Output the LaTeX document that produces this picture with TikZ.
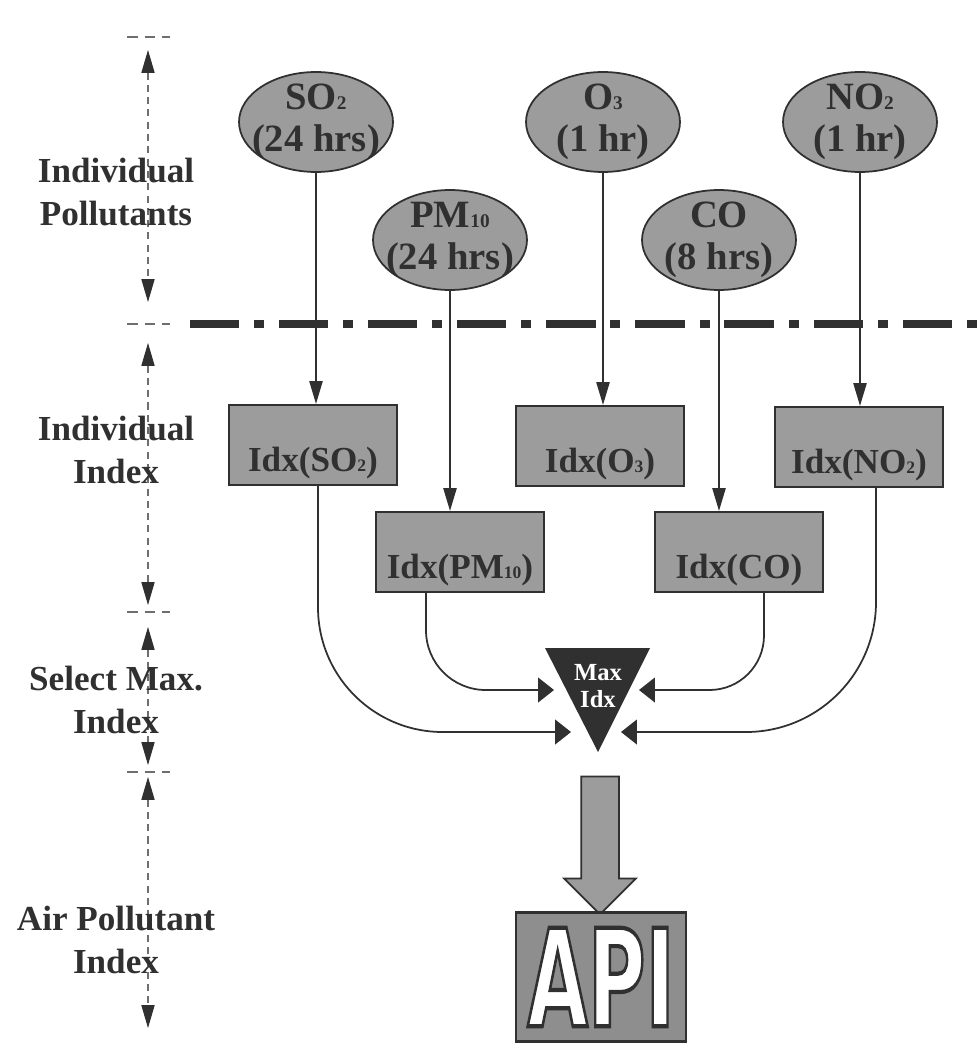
\documentclass[tikz,border=0pt]{standalone}
\usepackage{fontspec}
\setmainfont{Liberation Serif}
\newfontfamily\apifont{DejaVu Sans}
\usepackage{tikz}
\usepackage{color}
\usetikzlibrary{shapes.geometric,shapes.arrows,arrows.meta,calc}
\definecolor{ink}{RGB}{48,48,48}
\definecolor{shade}{RGB}{156,156,156}
\definecolor{apigray}{RGB}{142,142,142}
\definecolor{guide}{RGB}{110,110,110}
\newcommand{\lo}[1]{\scalebox{0.5}{#1}}
\newcommand{\outlined}[1]{\special{pdf:literal direct 0.19 0.19 0.19 RG 2.4 w 2 Tr}#1\special{pdf:literal direct 0 Tr}}

\begin{document}
\begin{tikzpicture}[x=0.02cm,y=-0.02cm]
            \tikzstyle{pollutant}=[draw=ink,line width=1pt,fill=shade,ellipse,minimum width=3.08cm,minimum height=2cm,inner sep=-8pt,align=center,text=ink,font=\fontsize{22}{24}\selectfont\bfseries]
            \tikzstyle{index}=[draw=ink,line width=1.2pt,fill=shade,rectangle,minimum width=3.36cm,minimum height=1.6cm,inner sep=2pt,text height=31pt,text depth=1pt,text=ink,font=\fontsize{20}{24}\selectfont\bfseries]
            \tikzstyle{stage}=[align=center,text=ink,font=\fontsize{20}{24}\selectfont\bfseries]
            \tikzstyle{feed}=[draw=ink,line width=1pt,-{Triangle[length=13pt,width=7.5pt]}]
            \tikzstyle{merge}=[draw=ink,line width=1pt,-{Triangle[length=9pt,width=14pt]}]
            \tikzstyle{stagespan}=[draw=guide,line width=0.6pt,dash pattern=on 4pt off 3pt,{Triangle[length=13pt,width=7.5pt,color=ink]}-{Triangle[length=13pt,width=7.5pt,color=ink]}]
            \tikzstyle{stagetick}=[draw=guide,line width=0.8pt,dash pattern=on 6pt off 4pt]
            \tikzstyle{bigarrow}=[single arrow,draw=ink,fill=shade,line width=1pt,rotate=-90,minimum height=2.76cm,text height=0.72cm,text depth=0pt,single arrow head extend=0.34cm,inner sep=0pt]
            \tikzstyle{apibox}=[draw=ink,fill=apigray,line width=1.2pt,minimum width=3.4cm,minimum height=2.58cm,inner sep=0pt]

            \useasboundingbox (0,0) rectangle (979,1044);

            \draw[stagespan] (148,50) -- (148,302);
            \draw[stagespan] (148,343) -- (148,605);
            \draw[stagespan] (148,627) -- (148,765);
            \draw[stagespan] (148,777) -- (148,1028);
            \foreach \y in {37,324,612,772}
                \draw[stagetick] (127,\y) -- (170,\y);

            \node[stage] (s1) at (116,192) {Individual\\Pollutants};
            \node[stage] (s2) at (116,450) {Individual\\Index};
            \node[stage] (s3) at (116,700) {Select Max.\\Index};
            \node[stage] (s4) at (116,940) {Air Pollutant\\Index};

            \draw[ink,line width=4pt,dash pattern=on 28pt off 8.5pt on 5.7pt off 8.5pt] (190,324) -- (979,324);

            \node[pollutant] (so2) at (316,122) {SO\lo{2}\\(24 hrs)};
            \node[pollutant] (pm) at (450,240) {PM\lo{10}\\(24 hrs)};
            \node[pollutant] (o3) at (603,122) {O\lo{3}\\(1 hr)};
            \node[pollutant] (co) at (719,240) {CO\\(8 hrs)};
            \node[pollutant] (no2) at (860,122) {NO\lo{2}\\(1 hr)};

            \node[index] (iso2) at (313,445) {Idx(SO\lo{2})};
            \node[index] (ipm) at (460,552) {Idx(PM\lo{10})};
            \node[index] (io3) at (600,446) {Idx(O\lo{3})};
            \node[index] (ico) at (739,552) {Idx(CO)};
            \node[index] (ino2) at (859,447) {Idx(NO\lo{2})};

            \draw[feed] (so2.south) -- (so2.south |- iso2.north);
            \draw[feed] (pm.south) -- (pm.south |- ipm.north);
            \draw[feed] (o3.south) -- (o3.south |- io3.north);
            \draw[feed] (co.south) -- (co.south |- ico.north);
            \draw[feed] (no2.south) -- (no2.south |- ino2.north);

            \fill[ink] (545,648) -- (650,648) -- (598,752) -- cycle;
            \node[text=white,align=center,font=\fontsize{14}{15}\selectfont\bfseries] (max) at (598,686) {Max\\Idx};
            \coordinate (inso2) at (571,732);
            \coordinate (inpm) at (554,690);
            \coordinate (inco) at (639,690);
            \coordinate (inno2) at (621,732);

            \draw[merge,rounded corners=71pt] ($(iso2.south)+(5,0)$) |- (inso2);
            \draw[merge,rounded corners=34pt] ($(ipm.south)+(-34,0)$) |- (inpm);
            \draw[merge,rounded corners=31pt] ($(ico.south)+(25,0)$) |- (inco);
            \draw[merge,rounded corners=74pt] ($(ino2.south)+(17,0)$) |- (inno2);

            \node[bigarrow] (flow) at (600,836) {};
            \node[apibox] (api) at (601,977) {\apifont\bfseries\fontsize{77}{77}\selectfont\color{white}\scalebox{0.58}[1]{\outlined{API}}};
\end{tikzpicture}
\end{document}
